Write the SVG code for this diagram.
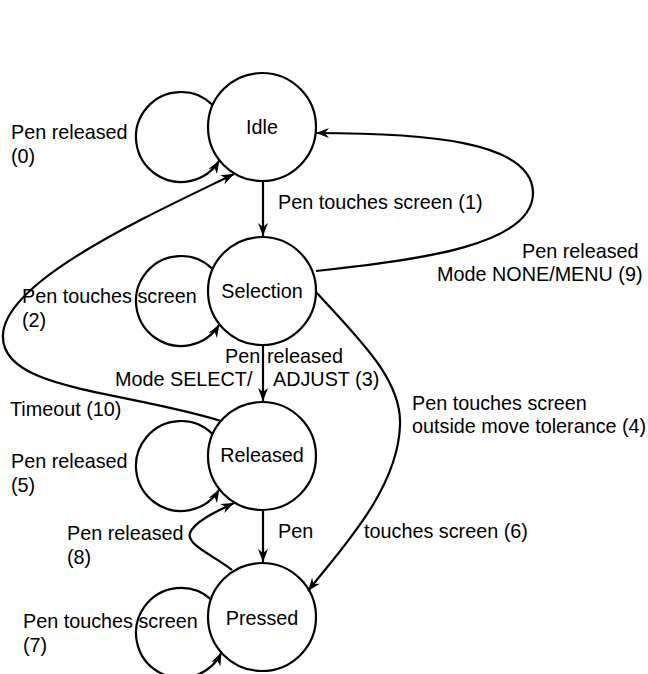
<svg xmlns="http://www.w3.org/2000/svg" width="648" height="674" viewBox="0 0 648 674">
<style>
.n{fill:none;stroke:#000;stroke-width:2.2}
.e{fill:none;stroke:#000;stroke-width:2.2;marker-end:url(#a)}
text{font-family:"Liberation Sans",Arial,sans-serif;font-size:19.8px;fill:#000}
.c{text-anchor:middle}
</style>
<defs>
<marker id="a" markerUnits="userSpaceOnUse" markerWidth="14" markerHeight="12" viewBox="0 0 14 12" refX="13" refY="6" orient="auto">
<path d="M0,1 L13,6 L0,11 L4,6 z" fill="#000"/>
</marker>
</defs>
<rect width="648" height="674" fill="#fff"/>
<g id="idle"><circle class="n" cx="262" cy="127" r="54"/><text class="c" x="262" y="134">Idle</text></g>
<g id="selection"><circle class="n" cx="262" cy="291" r="54"/><text class="c" x="262" y="298">Selection</text></g>
<g id="released"><circle class="n" cx="262" cy="456" r="54"/><text class="c" x="262" y="462">Released</text></g>
<g id="pressed"><circle class="n" cx="262" cy="617" r="54"/><text class="c" x="262" y="625">Pressed</text></g>
<g id="connectors">
<path class="e" d="M212.6,105 A45,45 0 1 0 219.4,160.4"/>
<path class="e" d="M212.6,269 A45,45 0 1 0 219.4,324.4"/>
<path class="e" d="M212.6,434 A45,45 0 1 0 219.4,489.4"/>
<path class="e" d="M211,599.4 A45,45 0 1 0 221.5,652.6"/>
<path class="e" d="M263,182 L263,236"/>
<path class="e" d="M263,346 L263,401"/>
<path class="e" d="M263,511 L263,562"/>
<path class="e" d="M316,271 C420,260 533,245 533,193 C533,140 420,133 316,133"/>
<path class="e" d="M221,421 C120,390 0,390 3,335 C5,280 150,215 234,174"/>
<path class="e" d="M316,292 C360,340 402,380 400,425 C398,490 340,550 308,591"/>
<path class="e" d="M232,570 C215,556 186,545 190,533 C194,522 215,512 234,503"/>
</g>
<g id="labels">
<text x="11" y="139">Pen released</text>
<text x="11" y="163">(0)</text>
<text x="278" y="209">Pen touches screen (1)</text>
<text x="22" y="303">Pen touches screen</text>
<text x="22" y="327">(2)</text>
<text x="522" y="258">Pen released</text>
<text x="437" y="281">Mode NONE/MENU (9)</text>
<text y="363"><tspan x="225">Pen</tspan> <tspan x="267">released</tspan></text>
<text y="386"><tspan x="115">Mode SELECT/</tspan> <tspan x="273">ADJUST (3)</tspan></text>
<text x="10" y="416">Timeout (10)</text>
<text x="11" y="468">Pen released</text>
<text x="11" y="492">(5)</text>
<text x="412" y="410">Pen touches screen</text>
<text x="412" y="433">outside move tolerance (4)</text>
<text x="67" y="540">Pen released</text>
<text x="67" y="564">(8)</text>
<text x="278" y="538">Pen</text>
<text x="364" y="538">touches screen (6)</text>
<text x="23" y="628">Pen touches screen</text>
<text x="23" y="652">(7)</text>
</g>
</svg>
